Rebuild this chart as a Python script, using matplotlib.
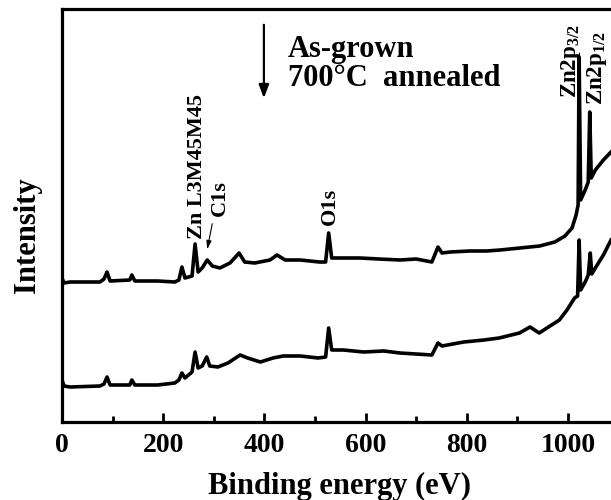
import matplotlib
matplotlib.use("Agg")
import matplotlib.pyplot as plt

plt.rcParams['font.family'] = ['Liberation Serif', 'DejaVu Serif']
plt.rcParams['font.weight'] = 'bold'
plt.rcParams['mathtext.fontset'] = 'custom'
plt.rcParams['mathtext.rm'] = 'Liberation Serif:bold'
plt.rcParams['mathtext.it'] = 'Liberation Serif:bold'
plt.rcParams['mathtext.bf'] = 'Liberation Serif:bold'

# Binding energy (eV) and intensity (arb. units)
asgrown_ev = [0, 4, 16, 75, 83, 89, 95, 134, 138, 144, 189, 223, 231, 237, 243, 257,
              263, 269, 277, 287, 297, 312, 332, 350, 361, 381, 411, 425, 441, 471,
              509, 521, 527, 533, 559, 589, 626, 668, 700, 731, 743, 751, 767, 806,
              839, 866, 905, 944, 974, 994, 1008, 1016, 1020, 1022, 1025, 1034,
              1040, 1043, 1046, 1054, 1070, 1085]
asgrown_int = [144, 139, 140, 140, 143, 150, 141, 142, 147, 141, 141, 140, 142, 155,
               144, 146, 178, 150, 154, 162, 156, 154, 159, 169, 160, 159, 162, 167,
               162, 162, 160, 160, 189, 164, 164, 164, 163, 162, 163, 160, 175, 169,
               170, 171, 171, 172, 174, 176, 180, 186, 194, 207, 217, 365, 222, 232,
               240, 310, 244, 252, 262, 270]

annealed_ev = [0, 4, 16, 75, 83, 89, 95, 134, 138, 144, 189, 223, 231, 237, 243, 257,
               263, 269, 277, 286, 292, 308, 328, 352, 367, 392, 417, 437, 471, 506,
               521, 527, 533, 556, 596, 636, 668, 700, 731, 743, 751, 794, 834, 864,
               904, 925, 943, 983, 998, 1013, 1019, 1022, 1025, 1034, 1040, 1044,
               1047, 1054, 1070, 1085]
annealed_int = [42, 36, 35, 36, 38, 45, 37, 37, 42, 37, 37, 39, 42, 49, 44, 50,
                70, 54, 56, 65, 56, 55, 59, 67, 64, 60, 64, 66, 66, 64,
                65, 94, 72, 72, 70, 71, 69, 68, 67, 79, 76, 80, 82, 84,
                89, 95, 89, 102, 112, 124, 126, 182, 132, 140, 147, 169,
                148, 154, 167, 182]

xticks_major = [0, 200, 400, 600, 800, 1000]
xticks_minor = [100, 300, 500, 700, 900]

fig = plt.figure(figsize=(6.11, 5.0), dpi=100)
ax = fig.add_axes([62 / 611, 78 / 500, 549 / 611, 413 / 500])

ax.plot(asgrown_ev, asgrown_int, color='black', lw=2.6, solid_joinstyle='round')
ax.plot(annealed_ev, annealed_int, color='black', lw=2.6, solid_joinstyle='round')

ax.set_xlim(0, 1085)
ax.set_ylim(0, 413)

for s in ['left', 'bottom', 'top']:
    ax.spines[s].set_linewidth(2.3)
ax.spines['right'].set_visible(False)

ax.set_xticks(xticks_major)
ax.set_xticks(xticks_minor, minor=True)
ax.set_yticks([])
ax.tick_params(axis='x', which='major', direction='in', length=6.5, width=2,
               labelsize=20, pad=8, top=False)
ax.tick_params(axis='x', which='minor', direction='in', length=4, width=2, top=False)
for lab in ax.get_xticklabels():
    lab.set_fontweight('bold')

ax.set_xlabel('Binding energy (eV)', fontsize=22, fontweight='bold', va='center')
ax.xaxis.set_label_coords(0.506, -0.157)
ax.set_ylabel('Intensity', fontsize=22, fontweight='bold', va='center')
ax.yaxis.set_label_coords(-0.062, 0.453)

# legend-like text with arrow
ax.text(447, 365, 'As-grown', fontsize=22, fontweight='bold', va='baseline', ha='left')
ax.text(447, 336, '700\u00b0C  annealed', fontsize=22, fontweight='bold', va='baseline', ha='left')
ax.annotate('', xy=(399, 321), xytext=(399, 400),
            arrowprops=dict(arrowstyle='-|>,head_length=0.8,head_width=0.3', color='black', lw=1.6))

# peak labels
ax.text(267, 183, 'Zn L3M45M45', rotation=90, fontsize=16, fontweight='bold', ha='center', va='bottom')
ax.text(312, 206, 'C1s', rotation=90, fontsize=16, fontweight='bold', ha='center', va='bottom')
ax.annotate('', xy=(286, 170), xytext=(298, 201),
            arrowprops=dict(arrowstyle='-|>,head_length=0.5,head_width=0.15', color='black', lw=0.8))
ax.text(530, 197, 'O1s', rotation=90, fontsize=16, fontweight='bold', ha='center', va='bottom')
ax.text(1006, 324, 'Zn2p$_{3/2}$', rotation=90, fontsize=16.5, fontweight='bold', ha='center', va='bottom')
ax.text(1057, 317, 'Zn2p$_{1/2}$', rotation=90, fontsize=16.5, fontweight='bold', ha='center', va='bottom',
        clip_on=False)

fig.savefig('out.png', dpi=100)
